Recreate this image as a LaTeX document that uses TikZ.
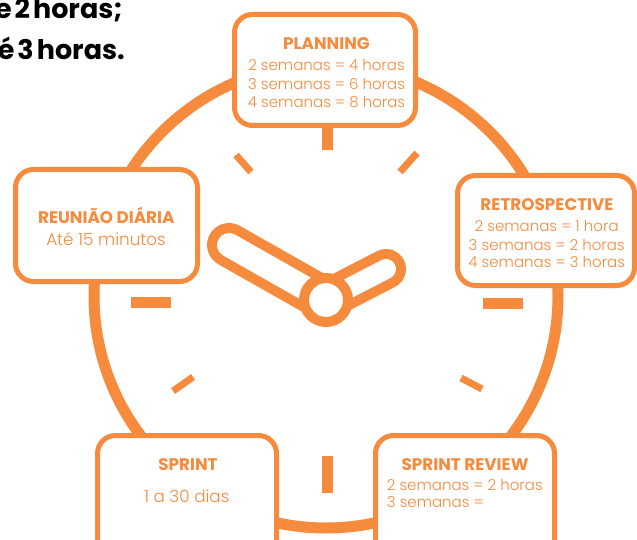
\documentclass[tikz,border=0pt]{standalone}
\usepackage{fontspec}
\setmainfont{Poppins}
\newfontfamily\bodyfont{Poppins Light}
\definecolor{clockorange}{HTML}{F68A3D}
\newcommand\tightwords{\spaceskip=3pt\relax}
\tikzset{
  rim/.style={draw=clockorange, line width=11pt},
  majortick/.style={draw=clockorange, line width=11pt},
  minortick/.style={draw=clockorange, line width=7pt},
  panel/.style={draw=clockorange, line width=5pt, fill=white, rounded corners=18pt, inner sep=0pt},
  paneltitle/.style={text=clockorange, font=\bfseries\fontsize{16.8}{20}\selectfont, inner sep=0pt, anchor=base},
  panelbody/.style={text=clockorange, font=\bodyfont\fontsize{15}{18}\selectfont, inner sep=0pt, anchor=base},
  panelnote/.style={text=clockorange, font=\bodyfont\fontsize{16.8}{20}\selectfont, inner sep=0pt, anchor=base},
  headline/.style={text=black, font=\bfseries\fontsize{27}{30}\selectfont, inner sep=0pt, anchor=base east},
}
\begin{document}
\begin{tikzpicture}[x=1pt,y=-1pt]
\useasboundingbox (0,0) rectangle (637,540);

% clock face
\coordinate (face) at (326,296);
\draw[rim] (face) circle[radius=232];

% hour marks
\draw[majortick] (327,108) -- (327,150);
\draw[majortick] (327,456) -- (327,493);
\draw[majortick] (131,302.5) -- (171,302.5);
\draw[majortick] (483,303) -- (523,303);
\draw[minortick] (236,155) -- (251,172);
\draw[minortick] (417,153) -- (400,172);
\draw[minortick] (173,391) -- (193,377);
\draw[minortick] (461,378) -- (482,389);

% hands
\coordinate (hub) at (326,300);
\coordinate (minuteEnd) at (229,245);
\coordinate (hourEnd) at (386,269);
\draw[clockorange, line width=44pt, line cap=round] (hub) -- (minuteEnd);
\draw[clockorange, line width=40pt, line cap=round] (hub) -- (hourEnd);
\draw[white, line width=24pt, line cap=round] (hub) -- (minuteEnd);
\draw[white, line width=20pt, line cap=round] (hub) -- (hourEnd);
\draw[clockorange, line width=10pt, fill=white] (hub) circle[radius=22];

% event panels
\node[panel, minimum width=181pt, minimum height=111pt] (planning) at (325,70) {};
\node[panel, minimum width=177pt, minimum height=110pt] (retro) at (546,230.5) {};
\node[panel, minimum width=182pt, minimum height=112pt] (daily) at (106.5,225.5) {};
\node[panel, minimum width=179pt, minimum height=134.5pt] (sprint) at (187,502.75) {};
\node[panel, minimum width=179pt, minimum height=134.5pt] (review) at (465,502.75) {};

% panel texts
\node[paneltitle] (planningT) at (326.5,50) {PLANNING};
\node[panelbody] (planningA) at (326.5,71) {2 semanas = 4 horas};
\node[panelbody] (planningB) at (326.5,89.3) {3 semanas = 6 horas};
\node[panelbody] (planningC) at (326.5,107.5) {4 semanas = 8 horas};

\node[paneltitle] (retroT) at (547,210.7) {RETROSPECTIVE};
\node[panelbody] (retroA) at (546.7,232) {2 semanas = 1 hora};
\node[panelbody] (retroB) at (546.7,250) {3 semanas = 2 horas};
\node[panelbody] (retroC) at (546.7,267.5) {4 semanas = 3 horas};

\node[paneltitle] (dailyT) at (106.3,223) {REUNIÃO DIÁRIA};
\node[panelnote] (dailyA) at (106,245.5) {Até 15 minutos};

\node[paneltitle] (sprintT) at (188,470) {SPRINT};
\node[panelnote] (sprintA) at (186.7,502) {1 a 30 dias};

\node[paneltitle] (reviewT) at (465,470) {SPRINT REVIEW};
\node[panelbody, anchor=base west] (reviewA) at (386.7,490) {2 semanas = 2 horas};
\node[panelbody, anchor=base west] (reviewB) at (386.7,507.5) {3 semanas =};

% heading fragment
\node[headline] (headA) at (123,18.3) {\tightwords e 2 horas;};
\node[headline] (headB) at (125,59.3) {\tightwords é 3 horas.};
\end{tikzpicture}
\end{document}
